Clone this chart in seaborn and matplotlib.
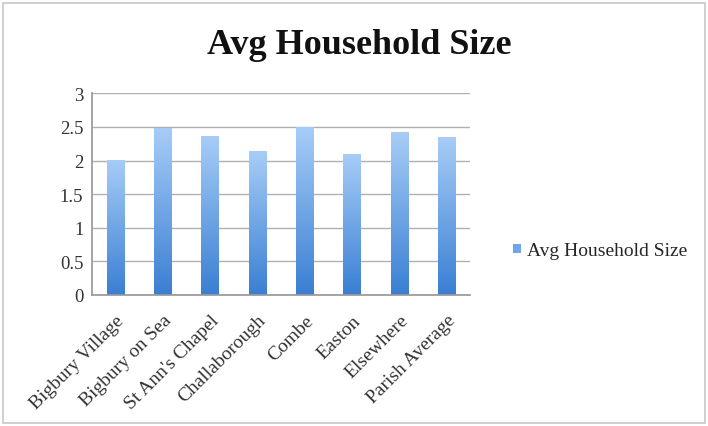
import matplotlib
matplotlib.use("Agg")
import matplotlib.pyplot as plt
import seaborn as sns
import numpy as np
import pandas as pd
from matplotlib.patches import Rectangle
from matplotlib.colors import LinearSegmentedColormap

categories = ["Bigbury Village", "Bigbury on Sea", "St Ann's Chapel", "Challaborough",
              "Combe", "Easton", "Elsewhere", "Parish Average"]
values = [2.01, 2.49, 2.37, 2.14, 2.50, 2.10, 2.42, 2.35]
series_name = "Avg Household Size"
yticks = [0, 0.5, 1, 1.5, 2, 2.5, 3]
ytick_labels = ["0", "0.5", "1", "1.5", "2", "2.5", "3"]

sns.set_theme(style="white")
plt.rcParams['font.family'] = ['Liberation Serif', 'DejaVu Serif']

df = pd.DataFrame({"cat": categories, "val": values})

fig = plt.figure(figsize=(7.08, 4.27), dpi=100)
ax = fig.add_axes([0.1295, 0.307, 0.535, 0.472])

sns.barplot(data=df, x="cat", y="val", ax=ax, width=0.37, color="#5b9be6",
            label=series_name)

cmap = LinearSegmentedColormap.from_list("g", ["#3a7fd3", "#a7cdf7"])
grad = np.linspace(0, 1, 256).reshape(-1, 1)
for p in ax.patches:
    x0, y0 = p.get_x(), p.get_y()
    w, h = p.get_width(), p.get_height()
    im = ax.imshow(grad, extent=[x0, x0 + w, y0, y0 + h], origin="lower",
                   cmap=cmap, aspect="auto", zorder=2)
    im.set_clip_path(p)
    p.set_facecolor("none")
    p.set_edgecolor("none")

ax.set_xlim(-0.5, len(categories) - 0.5)
ax.set_ylim(0, 3)
ax.set_yticks(yticks)
ax.set_yticklabels(ytick_labels, fontsize=13.5, color="#333333")
ax.yaxis.grid(True, color="#b0b0b0", linewidth=1.0)
ax.set_axisbelow(True)
ax.set_xlabel("")
ax.set_ylabel("")
ax.set_xticks(range(len(categories)))
ax.set_xticklabels(categories, rotation=45, ha="right", rotation_mode="anchor",
                   fontsize=14, color="#333333")
ax.tick_params(axis="x", length=0, pad=12)
ax.tick_params(axis="y", length=0, pad=6)
ax.set_xticks(np.arange(-0.5, len(categories), 1.0), minor=True)
ax.tick_params(axis="x", which="minor", length=4, color="#999999", direction="out")

for s in ["top", "right"]:
    ax.spines[s].set_visible(False)
ax.spines["left"].set_color("#999999")
ax.spines["bottom"].set_color("#999999")

if ax.legend_:
    ax.legend_.remove()
handle = Rectangle((0, 0), 1, 1, facecolor="#6fa6ea", edgecolor="none")
fig.legend([handle], [series_name], loc="center left", bbox_to_anchor=(0.700, 0.41),
           frameon=False, fontsize=14, handlelength=0.4, handleheight=0.4,
           handletextpad=0.3)

fig.text(0.508, 0.893, "Avg Household Size", ha="center", va="center",
         fontsize=26, fontweight="bold", color="#111111")

fig.patches.append(Rectangle((0.004, 0.008), 0.992, 0.982, transform=fig.transFigure,
                             fill=False, edgecolor="#c8c8c8", linewidth=1.2))

fig.savefig("out.png", dpi=100)
